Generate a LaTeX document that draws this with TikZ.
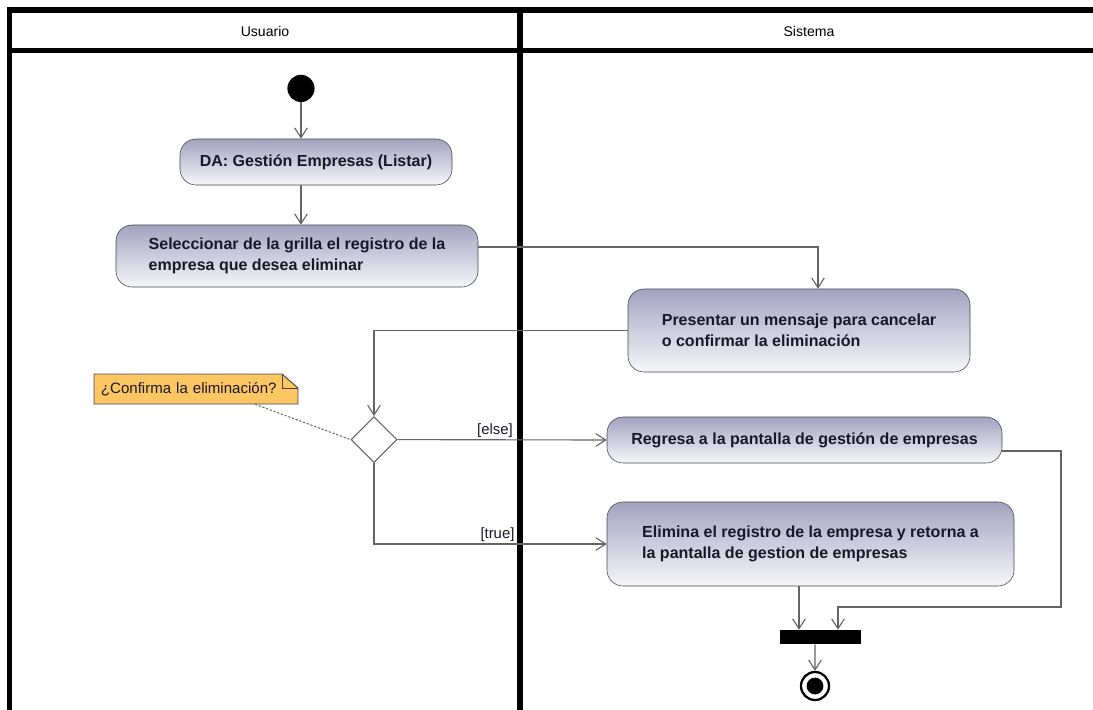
\documentclass[tikz,border=0pt]{standalone}
\usepackage{fontspec}
\setmainfont{Liberation Sans}
\usetikzlibrary{positioning, shapes.geometric, arrows.meta, calc}
\definecolor{acttop}{RGB}{164,163,192}
\definecolor{actbot}{RGB}{246,246,250}
\definecolor{actline}{RGB}{70,70,78}
\definecolor{acttext}{RGB}{24,24,40}
\definecolor{flowgray}{RGB}{100,100,100}
\definecolor{notefill}{RGB}{252,198,98}

\begin{document}
\begin{tikzpicture}[
  >={Straight Barb[length=7pt,width=9pt]},
  lane/.style={line width=3.6pt, black},
  lanehead/.style={font=\fontsize{10}{12}\selectfont, text=black},
  act/.style={draw=actline, rounded corners=0.4cm, top color=acttop, bottom color=actbot,
    text=acttext, font=\bfseries\fontsize{11.4}{14.6}\selectfont, align=left, inner sep=0pt},
  flow/.style={draw=flowgray, line width=0.8pt, ->},
  guard/.style={font=\fontsize{10.6}{12}\selectfont, text=acttext, inner sep=1pt}
]
\useasboundingbox (0,0) rectangle (27.325,-17.75);

% Swimlanes
\draw[lane] (0.2375,-18) -- (0.2375,-0.25) -- (27.5,-0.25);
\draw[lane] (0.2375,-1.2625) -- (27.5,-1.2625);
\draw[lane, line width=4.3pt] (13.0,-0.25) -- (13.0,-18);
\node[lanehead] (usuario) at (6.625,-0.78) {Usuario};
\node[lanehead] (sistema) at (20.225,-0.78) {Sistema};

% Start and actions
\node[circle, fill=black, minimum size=0.68cm, inner sep=0pt] (start) at (7.525,-2.21) {};
\node[act, minimum width=6.8cm, minimum height=1.15cm] (lista) at (7.9,-4.05)
  {DA: Gestión Empresas (Listar)};
\node[act, minimum width=9.05cm, minimum height=1.55cm] (selec) at (7.425,-6.4)
  {Seleccionar de la grilla el registro de la\\empresa que desea eliminar};
\node[act, minimum width=8.55cm, minimum height=2.075cm] (aviso) at (19.975,-8.2625)
  {Presentar un mensaje para cancelar\\o confirmar la eliminación};

% Decision and note
\node[diamond, aspect=1, draw=flowgray, fill=white, line width=0.8pt,
  minimum width=1.15cm, minimum height=1.15cm, inner sep=0pt] (decide) at (9.35,-10.99) {};
\filldraw[fill=notefill, draw=actline, line width=0.7pt]
  (2.35,-9.35) -- (7.05,-9.35) -- (7.45,-9.7) -- (7.45,-10.1) -- (2.35,-10.1) -- cycle;
\draw[actline, line width=0.7pt] (7.05,-9.35) |- (7.45,-9.7);
\node[font=\fontsize{10.7}{12}\selectfont, text=acttext, text width=4.75cm, align=left,
  inner xsep=0.15cm, minimum height=0.75cm] (nota) at (4.9,-9.725) {¿Confirma la eliminación?};

% Outcomes
\node[act, minimum width=9.875cm, minimum height=1.15cm] (regresa) at (20.1125,-11.0)
  {Regresa a la pantalla de gestión de empresas};
\node[act, minimum width=10.175cm, minimum height=2.1cm] (elimina) at (20.2625,-13.6)
  {Elimina el registro de la empresa y retorna a\\la pantalla de gestion de empresas};

% Join and end
\node[fill=black, minimum width=2.025cm, minimum height=0.35cm, inner sep=0pt] (junta) at (20.5125,-15.925) {};
\node[circle, draw=black, line width=1.6pt, fill=white, minimum size=0.7cm, inner sep=0pt] (fin) at (20.375,-17.15) {};
\node[circle, fill=black, minimum size=0.42cm, inner sep=0pt] (fincore) at (fin) {};
\coordinate (vuelta) at (26.525,-15.175);

% Flows
\draw[flow] (start.south) -- (start.south |- lista.north);
\draw[flow] (start.south |- lista.south) -- (start.south |- selec.north);
\draw[flow] ([yshift=0.225cm]selec.east) -| ([xshift=0.475cm]aviso.north);
\draw[flow] (aviso.west) -| (decide.north);
\draw[flowgray, line width=0.7pt, dash pattern=on 1.6pt off 1.2pt] ([xshift=1.475cm]nota.south) -- (decide.west);
\draw[flow] (decide.east) -- node[guard, pos=0.56, anchor=south east] {[else]} (regresa.west);
\draw[flow] (decide.south) |- node[guard, pos=0.806, anchor=south east] {[true]} (elimina.west);
\draw[flow] ([yshift=-0.275cm]regresa.east) -| (vuelta) -| ([xshift=0.4375cm]junta.north);
\draw[flow] ([xshift=-0.2875cm]elimina.south) -- ([xshift=-0.5375cm]junta.north);
\draw[flow] ([xshift=-0.1375cm]junta.south) -- (fin.north);

\end{tikzpicture}
\end{document}
